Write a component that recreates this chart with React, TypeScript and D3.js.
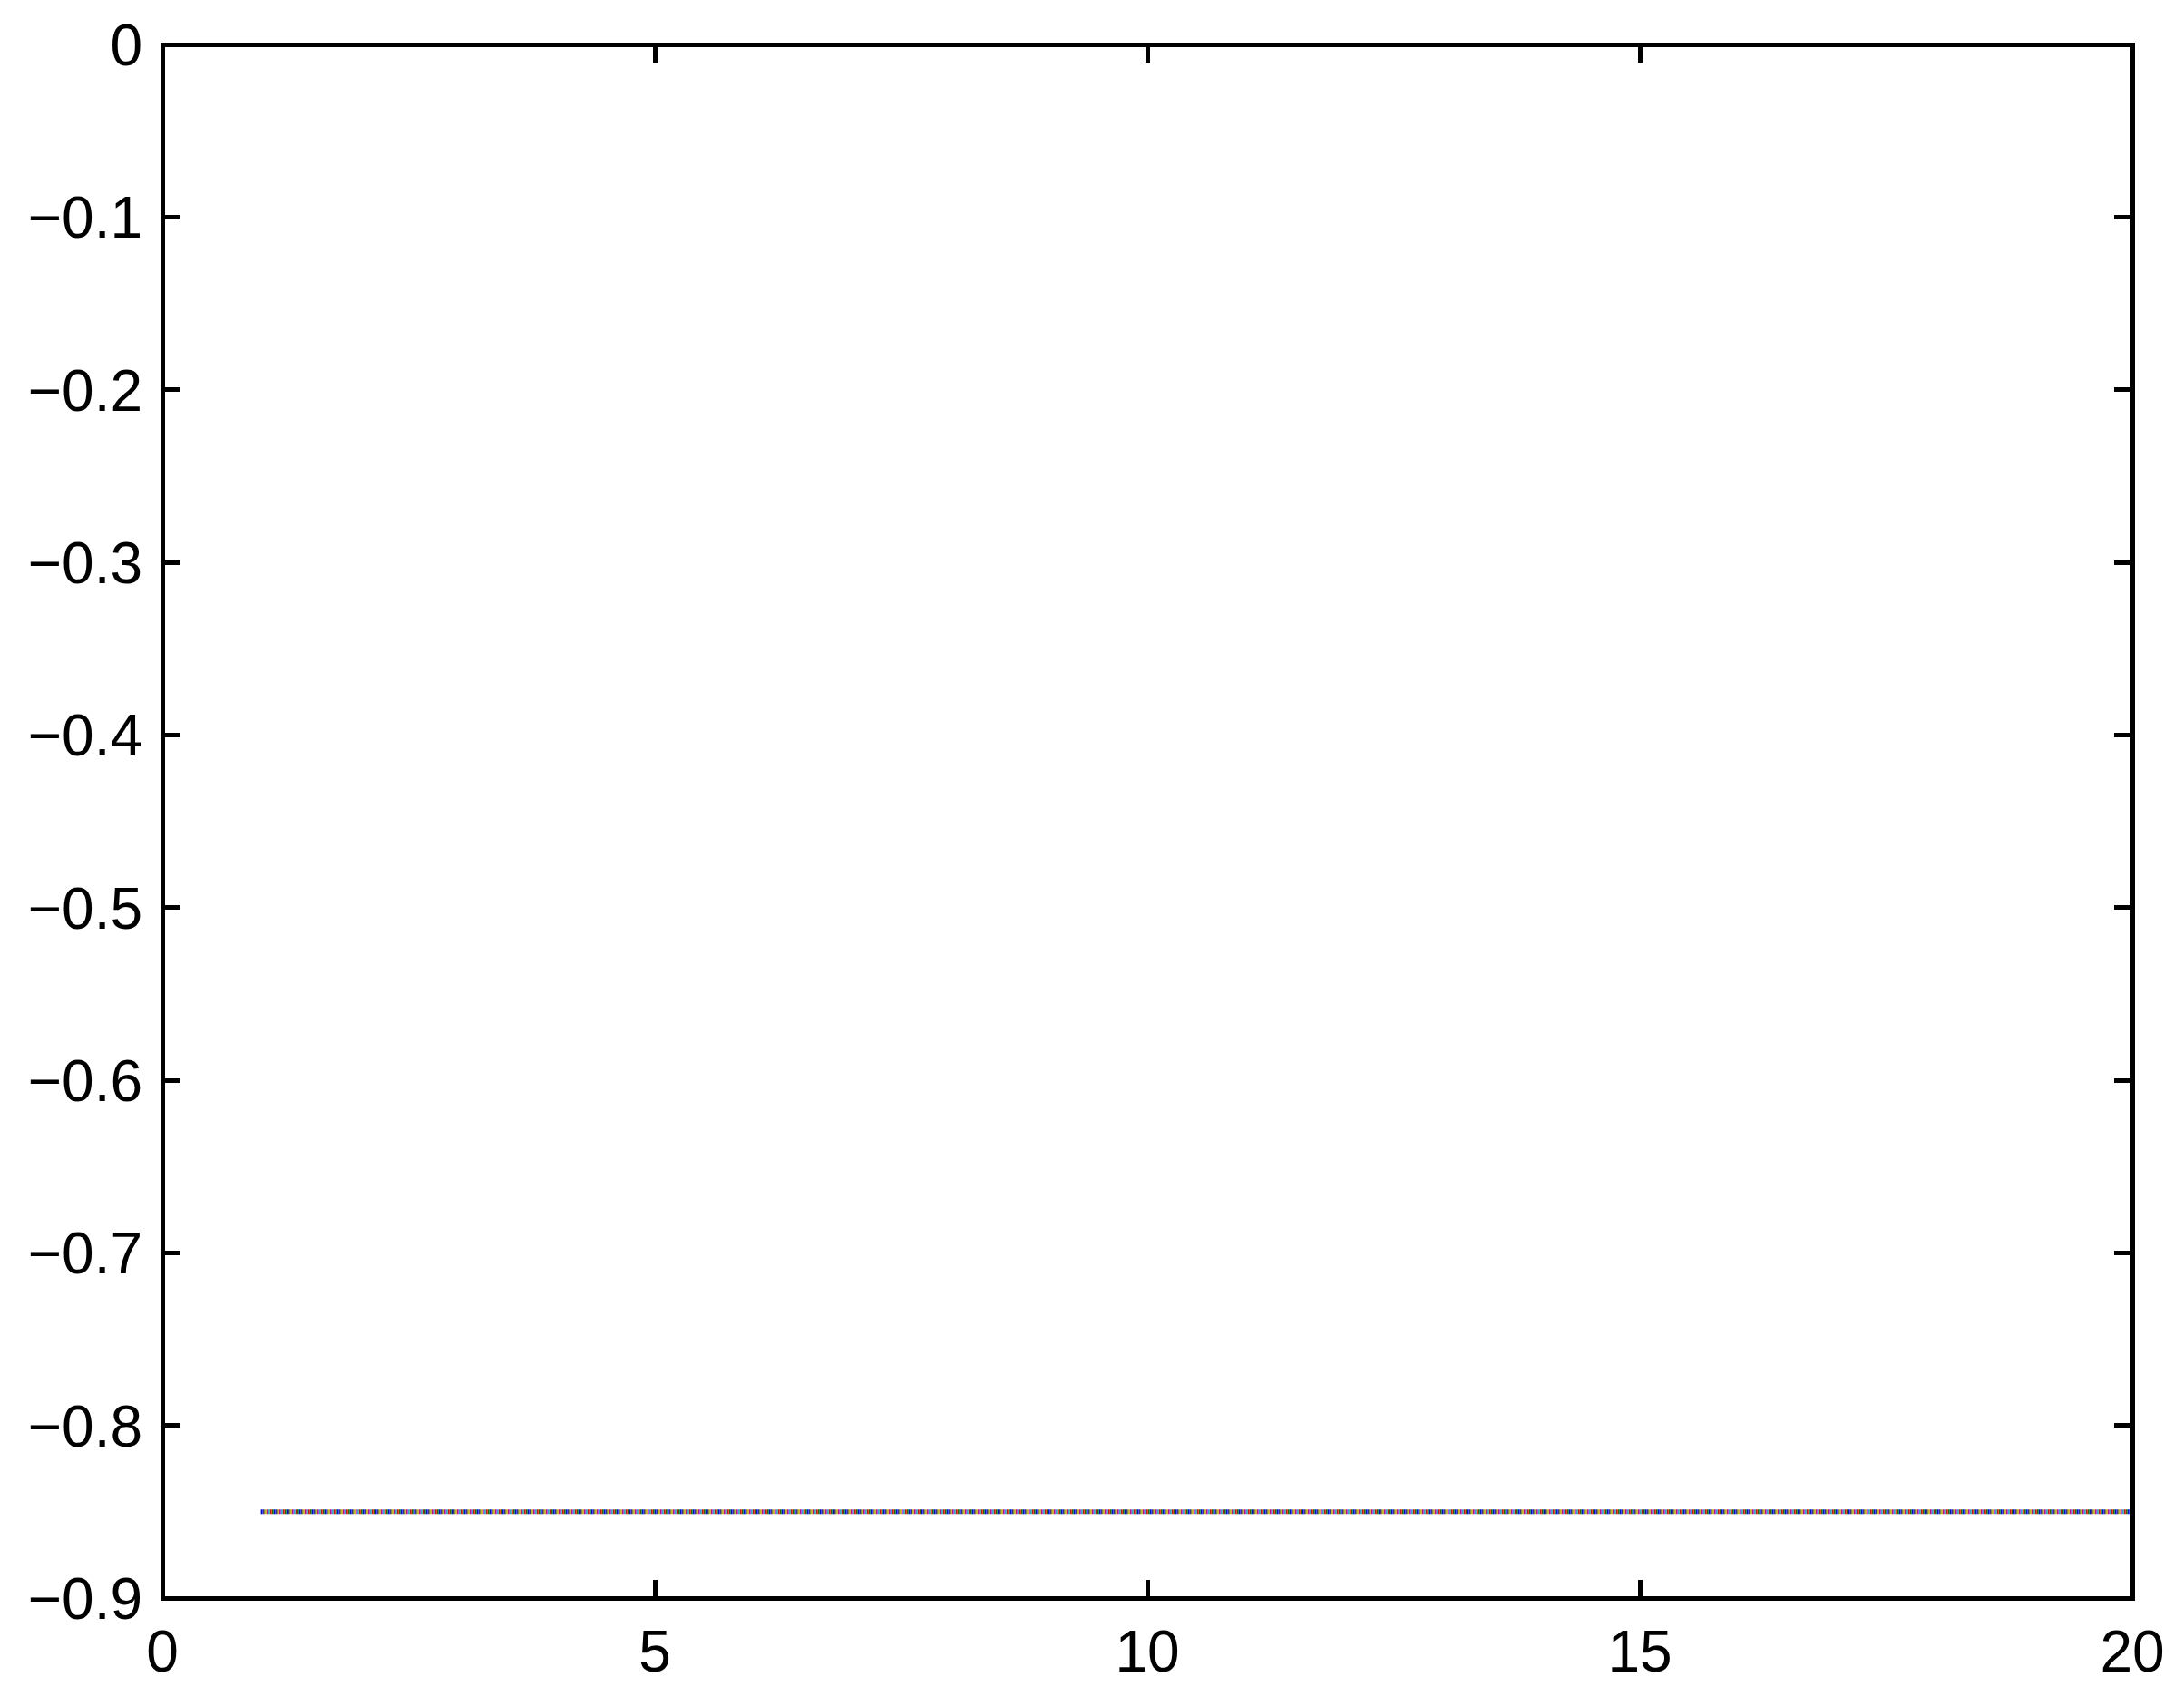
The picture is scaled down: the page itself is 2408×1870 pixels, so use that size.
import React from "react";
import * as d3 from "d3";

const xValues = [1, 2, 3, 4, 5, 6, 7, 8, 9, 10, 11, 12, 13, 14, 15, 16, 17, 18, 19, 20];
const seriesA = [-0.85, -0.85, -0.85, -0.85, -0.85, -0.85, -0.85, -0.85, -0.85, -0.85, -0.85, -0.85, -0.85, -0.85, -0.85, -0.85, -0.85, -0.85, -0.85, -0.85];
const seriesB = [-0.85, -0.85, -0.85, -0.85, -0.85, -0.85, -0.85, -0.85, -0.85, -0.85, -0.85, -0.85, -0.85, -0.85, -0.85, -0.85, -0.85, -0.85, -0.85, -0.85];
const seriesC = [-0.85, -0.85, -0.85, -0.85, -0.85, -0.85, -0.85, -0.85, -0.85, -0.85, -0.85, -0.85, -0.85, -0.85, -0.85, -0.85, -0.85, -0.85, -0.85, -0.85];
const seriesD = [-0.85, -0.85, -0.85, -0.85, -0.85, -0.85, -0.85, -0.85, -0.85, -0.85, -0.85, -0.85, -0.85, -0.85, -0.85, -0.85, -0.85, -0.85, -0.85, -0.85];
const seriesE = [-0.85, -0.85, -0.85, -0.85, -0.85, -0.85, -0.85, -0.85, -0.85, -0.85, -0.85, -0.85, -0.85, -0.85, -0.85, -0.85, -0.85, -0.85, -0.85, -0.85];
const seriesF = [-0.85, -0.85, -0.85, -0.85, -0.85, -0.85, -0.85, -0.85, -0.85, -0.85, -0.85, -0.85, -0.85, -0.85, -0.85, -0.85, -0.85, -0.85, -0.85, -0.85];
const seriesG = [-0.85, -0.85, -0.85, -0.85, -0.85, -0.85, -0.85, -0.85, -0.85, -0.85, -0.85, -0.85, -0.85, -0.85, -0.85, -0.85, -0.85, -0.85, -0.85, -0.85];
const allSeries = [seriesA, seriesB, seriesC, seriesD, seriesE, seriesF, seriesG];
const seriesColors = ["#0000ff", "#008000", "#ff0000", "#00bfbf", "#bf00bf", "#bfbf00", "#404040"];

const xTicks = [0, 5, 10, 15, 20];
const yTicks = [0, -0.1, -0.2, -0.3, -0.4, -0.5, -0.6, -0.7, -0.8, -0.9];

const W = 2408;
const H = 1870;
const left = 179;
const right = 2351;
const top = 49;
const bottom = 1762;
const tickLen = 20;
const font = "'Liberation Sans', Arial, Helvetica, sans-serif";

function fmt(v: number) {
  if (v === 0) return "0";
  const s = Math.abs(v).toString();
  return (v < 0 ? "\u2212" : "") + s;
}

export default function App() {
  const x = d3.scaleLinear().domain([0, 20]).range([left, right]);
  const y = d3.scaleLinear().domain([-0.9, 0]).range([bottom, top]);
  const line = d3
    .line<number>()
    .x((_, i) => x(xValues[i]))
    .y((d) => y(d));

  return (
    <div style={{ position: "absolute", left: 0, top: 0 }}>
      <svg width={W} height={H} style={{ display: "block", background: "#fff" }}>
        <rect x={0} y={0} width={W} height={H} fill="#fff" />
        {allSeries.map((s, k) => (
          <path
            key={k}
            d={line(s) || ""}
            fill="none"
            stroke={seriesColors[k]}
            strokeWidth={5}
            strokeDasharray="2 12"
            strokeDashoffset={k * 2}
          />
        ))}
        <g stroke="#000" strokeWidth={5} shapeRendering="crispEdges" fill="none">
          <rect x={left} y={top} width={right - left} height={bottom - top} />
          {xTicks.slice(1, -1).map((t) => (
            <g key={"xt" + t}>
              <line x1={x(t)} x2={x(t)} y1={bottom} y2={bottom - tickLen} />
              <line x1={x(t)} x2={x(t)} y1={top} y2={top + tickLen} />
            </g>
          ))}
          {yTicks.slice(1, -1).map((t) => (
            <g key={"yt" + t}>
              <line x1={left} x2={left + tickLen} y1={y(t)} y2={y(t)} />
              <line x1={right} x2={right - tickLen} y1={y(t)} y2={y(t)} />
            </g>
          ))}
        </g>
        <g fontFamily={font} fontSize={64} fill="#000">
          {xTicks.map((t) => (
            <text key={"xl" + t} x={x(t)} y={1843} textAnchor="middle">
              {String(t)}
            </text>
          ))}
          {yTicks.map((t) => (
            <text key={"yl" + t} x={157} y={y(t) + 23} textAnchor="end">
              {fmt(t)}
            </text>
          ))}
        </g>
      </svg>
    </div>
  );
}
